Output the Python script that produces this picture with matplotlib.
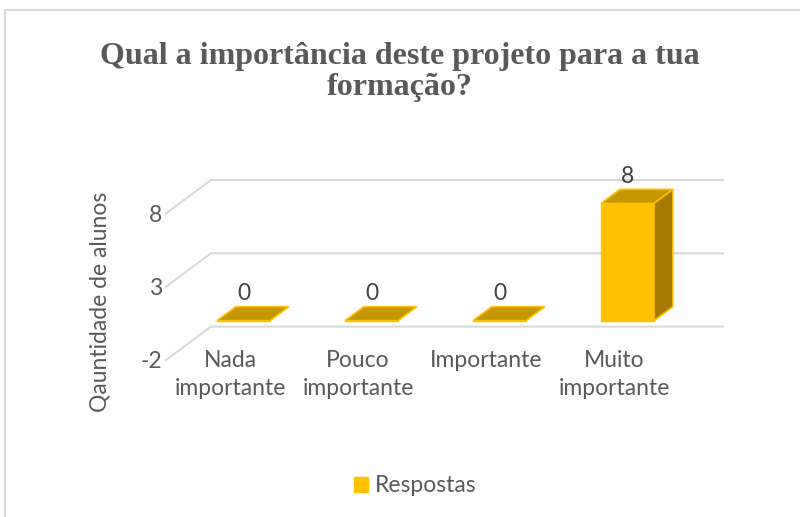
import matplotlib
matplotlib.use("Agg")
from matplotlib import pyplot as plt
from matplotlib.patches import Polygon, Patch
from matplotlib.lines import Line2D

plt.rcParams["axes.unicode_minus"] = False

categories = ["Nada\nimportante", "Pouco\nimportante", "Importante", "Muito\nimportante"]
values = [0, 0, 0, 8]
yticks = [-2, 3, 8]
series_name = "Respostas"

# oblique "3D" look: depth offset in data units, bar sits between z0 and z1
dx, dy = 0.352, 2.28
z0, z1 = 0.3, 0.72
w = 0.414

front_col = "#FFC000"
top_col = "#C49600"
side_col = "#A67C00"
grid_col = "#D9D9D9"
txt_col = "#595959"
fs = 16.5

fig = plt.figure(figsize=(8, 5.17), dpi=100)
ax = fig.add_axes([166 / 800, (517 - 360) / 517, 557 / 800, 180 / 517])
ax.set_xlim(-0.5, len(categories) - 0.5 + dx)
ax.set_ylim(yticks[0], yticks[-1] + dy)
for s in ax.spines.values():
    s.set_visible(False)
ax.set_xticks([])
ax.set_yticks(yticks)
ax.tick_params(axis="y", length=0, pad=3, labelsize=fs, labelcolor=txt_col)
for lab in ax.get_yticklabels():
    lab.set_fontfamily("Lato")

# gridlines: front diagonal + back wall
x0, x1 = -0.5, len(categories) - 0.5
for t in yticks:
    ax.plot([x0, x0 + dx, x1 + dx], [t, t + dy, t + dy], color=grid_col, lw=1.5, zorder=1, clip_on=False)

# front faces of bars
xs = [i + z0 * dx for i in range(len(categories))]
ax.bar(xs, values, width=w, bottom=z0 * dy, color=front_col, edgecolor=front_col, lw=1, zorder=3)

for i, v in enumerate(values):
    xl, xr = i - w / 2, i + w / 2
    top = [(xl + z0 * dx, v + z0 * dy), (xr + z0 * dx, v + z0 * dy),
           (xr + z1 * dx, v + z1 * dy), (xl + z1 * dx, v + z1 * dy)]
    ax.add_patch(Polygon(top, closed=True, facecolor=top_col, edgecolor=front_col, lw=1.2, zorder=4))
    if v > 0:
        side = [(xr + z0 * dx, z0 * dy), (xr + z0 * dx, v + z0 * dy),
                (xr + z1 * dx, v + z1 * dy), (xr + z1 * dx, z1 * dy)]
        ax.add_patch(Polygon(side, closed=True, facecolor=side_col, edgecolor=front_col, lw=1.2, zorder=4))
    ax.annotate(str(v), (i + z0 * dx, v + z1 * dy), xytext=(0, 2), textcoords="offset points",
                ha="center", va="bottom", fontsize=fs, color="#404040", family="Lato", zorder=5)

# category labels along the front edge
for i, c in enumerate(categories):
    ax.annotate(c, (i, yticks[0]), xytext=(0, 7), textcoords="offset points",
                ha="center", va="top", fontsize=fs, color=txt_col, family="Lato",
                linespacing=1.4, annotation_clip=False)

fig.text(100 / 800, 1 - 302 / 517, "Qauntidade de alunos", rotation=90, ha="center", va="center",
         fontsize=fs, color=txt_col, family="Lato")

fig.text(0.5, 1 - 72 / 517, "Qual a importância deste projeto para a tua\nformação?",
         ha="center", va="center", fontsize=23, fontweight="bold", color=txt_col,
         family="Liberation Serif", linespacing=1.1)

fig.legend(handles=[Patch(facecolor=front_col, edgecolor=front_col)], labels=[series_name],
           loc="center", bbox_to_anchor=(415 / 800, 1 - 486 / 517), frameon=False,
           prop={"family": "Lato", "size": fs}, labelcolor=txt_col,
           handlelength=0.6, handleheight=0.6, handletextpad=0.3)

# chart border (top and left edges)
fig.add_artist(Line2D([5 / 800, 5 / 800, 1], [0, 1 - 10 / 517, 1 - 10 / 517],
                      transform=fig.transFigure, color=grid_col, lw=1.5))

fig.savefig("out.png", dpi=100, facecolor="white")
